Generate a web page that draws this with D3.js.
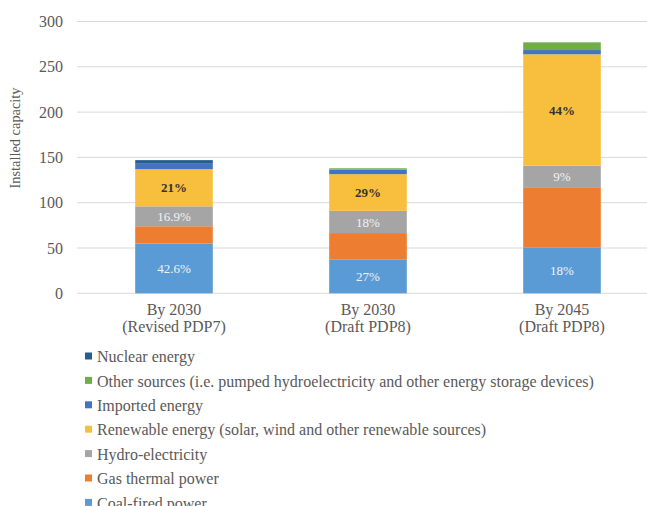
<!DOCTYPE html>
<html>
<head>
<meta charset="utf-8">
<script src="https://cdn.jsdelivr.net/npm/d3@7"></script>
<style>
  body { margin: 0; background: #fff; }
  svg text { font-family: "Liberation Serif", "DejaVu Serif", serif; }
</style>
</head>
<body>
<div id="chart"></div>
<script>
// categories and values
var categories = ['By 2030|(Revised PDP7)', 'By 2030|(Draft PDP8)', 'By 2045|(Draft PDP8)'];
var coal = [55, 37.5, 50.3];
var gas = [19, 29, 66];
var hydro = [22, 24.5, 24.5];
var renewable = [41, 40.5, 123];
var imported = [6, 5, 4.7];
var other = [0, 1.5, 8.5];
var nuclear = [4, 0, 0];
var yTicks = [0, 50, 100, 150, 200, 250, 300];

var coalLabels = ['42.6%', '27%', '18%'];
var hydroLabels = ['16.9%', '18%', '9%'];
var renewableLabels = ['21%', '29%', '44%'];

var seriesNames = ['Coal-fired power', 'Gas thermal power', 'Hydro-electricity',
    'Renewable energy (solar, wind and other renewable sources)', 'Imported energy',
    'Other sources (i.e. pumped hydroelectricity and other energy storage devices)', 'Nuclear energy'];
var seriesValues = [coal, gas, hydro, renewable, imported, other, nuclear];
var seriesColors = ['#5b9bd5', '#ed7d31', '#a5a5a5', '#f8bf3e', '#4472c4', '#70ad47', '#275e92'];

var width = 647, height = 506;
var svg = d3.select('#chart').append('svg').attr('width', width).attr('height', height);

var x = d3.scaleBand().domain(categories).range([77, 659]).paddingInner(0.6).paddingOuter(0.3);
var y = d3.scaleLinear().domain([0, 300]).range([293.3, 21.5]);

// table for the stack
var rows = categories.map(function (c, i) {
    var r = { cat: c };
    seriesNames.forEach(function (s, j) { r[s] = seriesValues[j][i]; });
    return r;
});
var stacked = d3.stack().keys(seriesNames)(rows);

// gridlines
svg.append('g').selectAll('line')
   .data(yTicks)
   .enter()
   .append('line')
   .attr('x1', 77).attr('x2', width)
   .attr('y1', function (d) { return y(d); })
   .attr('y2', function (d) { return y(d); })
   .attr('stroke', '#d9d9d9')
   .attr('stroke-width', 1);

// y axis labels
var yAxis = svg.append('g')
   .attr('transform', 'translate(63,0)')
   .call(d3.axisLeft(y).tickValues(yTicks).tickSize(0).tickPadding(0));
yAxis.select('.domain').remove();
yAxis.selectAll('text')
   .attr('font-size', 16)
   .attr('fill', '#595959')
   .style('font-family', '"Liberation Serif", serif');

svg.append('text')
   .attr('transform', 'translate(20,138) rotate(-90)')
   .attr('text-anchor', 'middle')
   .attr('font-size', 14.4)
   .attr('fill', '#595959')
   .text('Installed capacity');

// bars
stacked.forEach(function (layer, j) {
    svg.append('g').selectAll('rect')
       .data(layer)
       .enter()
       .append('rect')
       .attr('x', function (d) { return x(d.data.cat); })
       .attr('width', x.bandwidth())
       .attr('y', function (d) { return y(d[1]); })
       .attr('height', function (d) { return y(d[0]) - y(d[1]); })
       .attr('fill', seriesColors[j]);
});

// value labels inside segments
function addLabels(layerIndex, labels, color, weight) {
    svg.append('g').selectAll('text')
       .data(stacked[layerIndex])
       .enter()
       .append('text')
       .attr('x', function (d) { return x(d.data.cat) + x.bandwidth() / 2; })
       .attr('y', function (d) { return (y(d[0]) + y(d[1])) / 2; })
       .attr('dy', '0.35em')
       .attr('text-anchor', 'middle')
       .attr('font-size', 13)
       .attr('font-weight', weight)
       .attr('fill', color)
       .text(function (d, i) { return labels[i]; });
}
addLabels(0, coalLabels, '#f2f2f2', 'normal');
addLabels(2, hydroLabels, '#f2f2f2', 'normal');
addLabels(3, renewableLabels, '#333333', 'bold');

// category labels (two lines)
var xAxis = svg.append('g').selectAll('text')
   .data(categories)
   .enter()
   .append('text')
   .attr('x', function (d) { return x(d) + x.bandwidth() / 2; })
   .attr('y', 315)
   .attr('text-anchor', 'middle')
   .attr('font-size', 16)
   .attr('fill', '#595959');
xAxis.each(function (d) {
    var parts = d.split('|');
    var t = d3.select(this);
    t.append('tspan').attr('x', x(d) + x.bandwidth() / 2).attr('dy', 0).text(parts[0]);
    t.append('tspan').attr('x', x(d) + x.bandwidth() / 2).attr('dy', 17).text(parts[1]);
});

// legend, top entry first
var legendOrder = d3.range(seriesNames.length).reverse();
var legend = svg.append('g').selectAll('g')
   .data(legendOrder)
   .enter()
   .append('g')
   .attr('transform', function (d, i) { return 'translate(85,' + (356.5 + i * 24.4) + ')'; });
legend.append('rect')
   .attr('x', 0).attr('y', -4)
   .attr('width', 7).attr('height', 7)
   .attr('fill', function (d) { return seriesColors[d]; });
legend.append('text')
   .attr('x', 12)
   .attr('y', 0)
   .attr('dy', '0.35em')
   .attr('font-size', 16)
   .attr('fill', '#595959')
   .text(function (d) { return seriesNames[d]; });
</script>
</body>
</html>
